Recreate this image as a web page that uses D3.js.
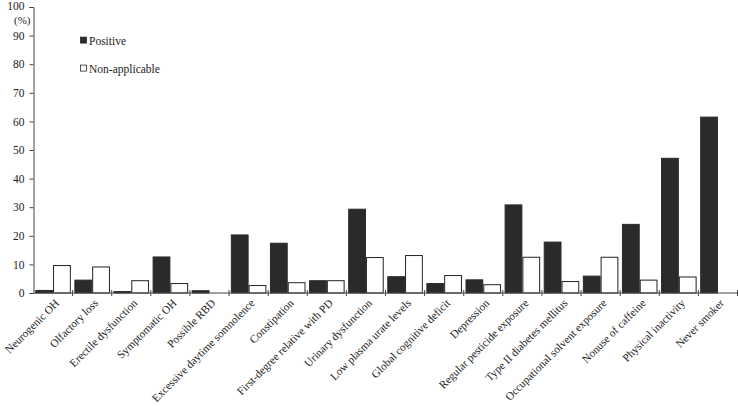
<!DOCTYPE html>
<html><head><meta charset="utf-8">
<script src="https://cdn.jsdelivr.net/npm/d3@7"></script>
<style>
body{margin:0;background:#fff;}
text{font-family:"Liberation Serif","Times New Roman",serif;fill:#222;}
</style></head>
<body><svg id="c" width="738" height="406"></svg>
<script>
const categories = ["Neurogenic OH","Olfactory loss","Erectile dysfunction","Symptomatic OH","Possible RBD","Excessive daytime somnolence","Constipation","First-degree relative with PD","Urinary dysfunction","Low plasma urate levels","Global cognitive deficit","Depression","Regular pesticide exposure","Type II diabetes mellitus","Occupational solvent exposure","Nonuse of caffeine","Physical inactivity","Never smoker"];
const positive = [0.9,4.5,0.5,12.6,0.8,20.3,17.4,4.3,29.3,5.7,3.3,4.6,30.8,17.8,5.9,24.0,47.1,61.5];
const nonApplicable = [9.6,9.1,4.3,3.3,0,2.6,3.6,4.3,12.4,13.1,6.1,2.9,12.5,4.0,12.5,4.5,5.6,0];
const seriesNames = ["Positive","Non-applicable"];
const yTicks = [0,10,20,30,40,50,60,70,80,90,100];

const svg = d3.select("#c");
const m = {l:33.5, t:7, r:0.5, b:113};
const W = 738 - m.l - m.r, H = 406 - m.t - m.b;
const g = svg.append("g").attr("transform",`translate(${m.l},${m.t})`);

const x = d3.scaleBand().domain(categories).range([0,W]).paddingInner(0).paddingOuter(0);
const xs = d3.scaleBand().domain(seriesNames).range([0,x.bandwidth()]).paddingOuter(0.1).paddingInner(0);
const y = d3.scaleLinear().domain([0,100]).range([H,0]);

const data = categories.map((c,i)=>({c, vals:[positive[i], nonApplicable[i]]}));
const grp = g.selectAll(".cat").data(data).enter().append("g").attr("transform",d=>`translate(${x(d.c)},0)`);
grp.selectAll("rect").data(d=>d.vals.map((v,j)=>({v,s:seriesNames[j]}))).enter()
  .filter(d=>d.v>0)
  .append("rect")
  .attr("x",d=>xs(d.s)+0.5).attr("width",xs.bandwidth()-1)
  .attr("y",d=>y(d.v)).attr("height",d=>H-y(d.v))
  .attr("fill",d=>d.s==="Positive"?"#2a2a2a":"#fff")
  .attr("stroke",d=>d.s==="Positive"?"#2a2a2a":"#222")
  .attr("stroke-width",1);

// y axis
const ya = g.append("g").call(d3.axisLeft(y).tickValues(yTicks).tickSize(4).tickPadding(5));
ya.select(".domain").attr("stroke","#444");
ya.selectAll(".tick line").attr("stroke","#444");
ya.selectAll("text").style("font-size","11.5px").attr("fill","#222");
ya.selectAll(".tick").filter(d=>d===100).select("text").attr("dy","0.2em");
g.append("text").attr("x",-3).attr("y",y(100)+16.5).attr("text-anchor","end").style("font-size","11px").text("(%)");

// x axis
const xa = g.append("g").attr("transform",`translate(0,${H})`);
xa.append("line").attr("x1",0).attr("x2",W).attr("stroke","#444");
xa.selectAll(".tk").data(categories.map((c,i)=>i+1)).enter().append("line")
  .attr("x1",i=>i*x.step()).attr("x2",i=>i*x.step()).attr("y1",-3).attr("y2",3).attr("stroke","#444");
xa.selectAll(".lbl").data(categories).enter().append("text")
  .attr("transform",d=>`translate(${x(d)+x.bandwidth()/2+4},${8}) rotate(-45)`)
  .attr("text-anchor","end").attr("dy","0.35em")
  .style("font-size","11.2px").text(d=>d);

// legend
const lg = g.append("g").attr("transform","translate(46.5,0)");
seriesNames.forEach((s,i)=>{
  const yy = y(90)+5 + i*28;
  lg.append("rect").attr("x",0.5).attr("y",yy-3.5).attr("width",6).attr("height",6)
    .attr("fill",i===0?"#2a2a2a":"#fff").attr("stroke","#2a2a2a").attr("stroke-width",0.8);
  lg.append("text").attr("x",9).attr("y",yy).attr("dy","0.35em").style("font-size","11.5px").text(s);
});
</script></body></html>
